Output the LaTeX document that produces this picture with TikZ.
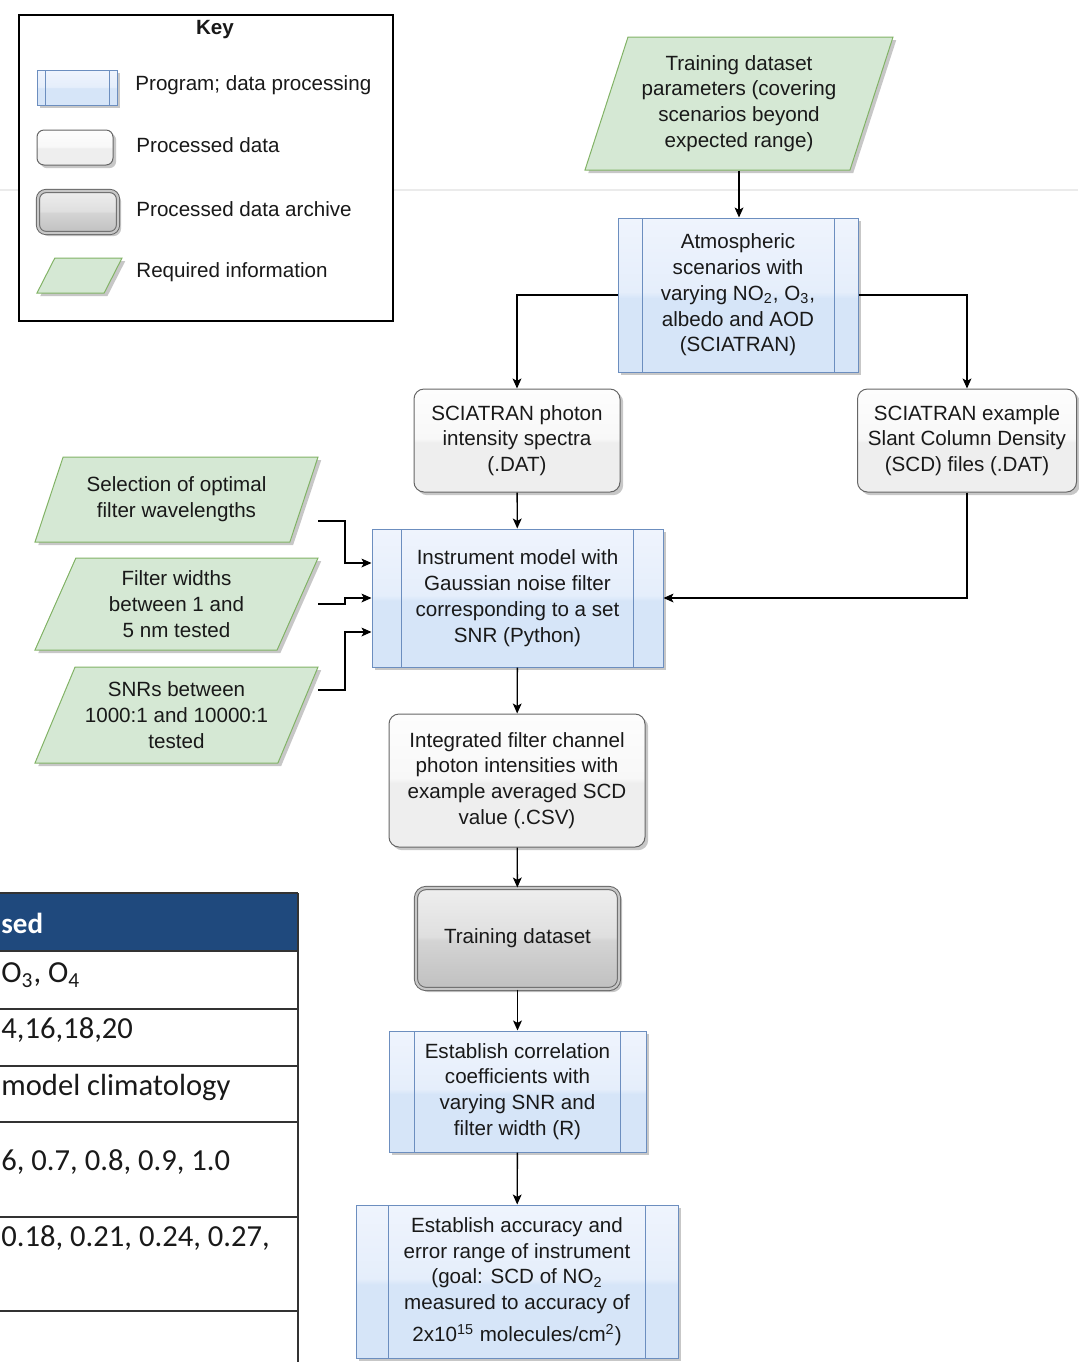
\documentclass[tikz,border=0pt]{standalone}
\usepackage{fontspec}
\setmainfont{Liberation Sans}
\newfontfamily\tabfont{Carlito}
\usepackage{tikz}
\usetikzlibrary{arrows.meta}
\usetikzlibrary{shapes.geometric, shadows, calc}
\definecolor{col1}{HTML}{6C8EBF}
\definecolor{col2}{HTML}{666666}
\definecolor{col3}{HTML}{D5E8D4}
\definecolor{col4}{HTML}{82B366}
\definecolor{col5}{HTML}{1F497D}
\definecolor{colb1}{HTML}{D6E5F8}
\definecolor{colb2}{HTML}{E5EEFB}
\definecolor{colb3}{HTML}{EFF4FD}
\definecolor{cold1}{HTML}{EEEEEE}
\definecolor{cold2}{HTML}{F8F8F8}
\definecolor{cold3}{HTML}{FDFDFD}
\definecolor{cola1}{HTML}{C0C0C0}
\definecolor{cola2}{HTML}{D4D4D4}
\definecolor{cola3}{HTML}{DFDFDF}
\definecolor{cola4}{HTML}{EEEEEE}
\pgfdeclareverticalshading{glassblue}{100bp}{color(0bp)=(colb1); color(25bp)=(colb1); color(49bp)=(colb1); color(51bp)=(colb2); color(75bp)=(colb3); color(100bp)=(colb3)}
\pgfdeclareverticalshading{glasswhite}{100bp}{color(0bp)=(cold1); color(25bp)=(cold1); color(49bp)=(cold1); color(51bp)=(cold2); color(75bp)=(cold3); color(100bp)=(cold3)}
\pgfdeclareverticalshading{glassgray}{100bp}{color(0bp)=(cola1); color(25bp)=(cola1); color(49bp)=(cola2); color(51bp)=(cola3); color(75bp)=(cola4); color(100bp)=(cola4)}

\begin{document}
\begin{tikzpicture}[x=0.5pt, y=-0.5pt, font=\fontsize{10.3}{12.9}\selectfont, text=black!90]
    \tikzstyle{shd} += [drop shadow={shadow xshift=1.6pt, shadow yshift=-1.6pt, fill=black!22, opacity=1}];
    \tikzstyle{prc} += [rectangle, draw=col1, line width=0.5pt, shading=glassblue, shd, inner sep=0pt, align=center,
      path picture={
        \draw[col1, line width=0.5pt] ($(path picture bounding box.north west)!0.1!(path picture bounding box.north east)$) -- ($(path picture bounding box.south west)!0.1!(path picture bounding box.south east)$);
        \draw[col1, line width=0.5pt] ($(path picture bounding box.north west)!0.9!(path picture bounding box.north east)$) -- ($(path picture bounding box.south west)!0.9!(path picture bounding box.south east)$);
      }];
    \tikzstyle{dat} += [rectangle, rounded corners=5pt, draw=col2, line width=0.5pt, shading=glasswhite, shd, inner sep=0pt, align=center];
    \tikzstyle{arc} += [rectangle, rounded corners=5pt, draw=col2, double=black!22, double distance=1.1pt, line width=0.5pt, shading=glassgray, shd, inner sep=0pt, align=center];
    \tikzstyle{inf} += [trapezium, trapezium stretches body, draw=col4, fill=col3, line width=0.5pt, shd, inner sep=0pt, align=center];
    \tikzstyle{ktx} += [anchor=west, inner sep=0pt];
    \tikzstyle{tbx} += [anchor=west, inner sep=0pt, font=\tabfont\fontsize{15.3}{18}\selectfont];

    \useasboundingbox (0,0) rectangle (1078,1362);
    \draw[black!8, line width=1pt] (0,190) -- (1078,190);

    % key
    \node (key) at (206,168) [draw=black, fill=white, line width=0.6pt, minimum width=187pt, minimum height=153pt] {};
    \node (k_0) at (215,30) [font=\fontsize{10.3}{12.9}\selectfont\bfseries] {Key};
    \node (k_1) at (77,87.5) [prc, minimum width=40pt, minimum height=17.5pt] {};
    \node (k_2) at (75,147.5) [dat, rounded corners=3.5pt, minimum width=38pt, minimum height=17.5pt] {};
    \node (k_3) at (78,212) [arc, rounded corners=4pt, minimum width=40pt, minimum height=21pt] {};
    \node (k_4) at (79.5,275.5) [inf, trapezium left angle=63, trapezium right angle=117, minimum width=42.5pt, minimum height=17.5pt] {\rule{0pt}{17.5pt}};
    \node (t_1) at (135,85) [ktx] {Program; data processing};
    \node (t_2) at (136,145) [ktx] {Processed data};
    \node (t_3) at (136,209) [ktx] {Processed data archive};
    \node (t_4) at (136,272) [ktx] {Required information};

    % flow
    \node (in_1) at (739,103.5) [inf, trapezium left angle=66, trapezium right angle=114, minimum width=154pt, minimum height=66.5pt]
      {Training dataset\\parameters (covering\\scenarios beyond\\expected range)};
    \node (pr_1) at (738,295) [prc, minimum width=120pt, minimum height=77pt]
      {Atmospheric\\scenarios with\\varying NO\textsubscript{2}, O\textsubscript{3},\\albedo and AOD\\(SCIATRAN)};
    \node (dt_1) at (517,440.5) [dat, minimum width=103pt, minimum height=51.5pt]
      {SCIATRAN photon\\intensity spectra\\(.DAT)};
    \node (dt_2) at (967,440.5) [dat, minimum width=109.5pt, minimum height=51.5pt]
      {SCIATRAN example\\Slant Column Density\\(SCD) files (.DAT)};
    \node (pr_2) at (517.5,598) [prc, minimum width=145.5pt, minimum height=69pt]
      {Instrument model with\\Gaussian noise filter\\corresponding to a set\\SNR (Python)};
    \node (dt_3) at (517,780.5) [dat, minimum width=128pt, minimum height=66.5pt]
      {Integrated filter channel\\photon intensities with\\example averaged SCD\\value (.CSV)};
    \node (ar_1) at (517.5,938.5) [arc, minimum width=101.5pt, minimum height=50.5pt] {Training dataset};
    \node (pr_3) at (517.5,1091.5) [prc, minimum width=128.5pt, minimum height=60.5pt]
      {Establish correlation\\coefficients with\\varying SNR and\\filter width (R)};
    \node (pr_4) at (517,1281.5) [prc, minimum width=161pt, minimum height=76.5pt]
      {Establish accuracy and\\error range of instrument\\(goal: SCD of NO\textsubscript{2}\\measured to accuracy of\\[3pt]2x10\textsuperscript{15} molecules/cm\textsuperscript{2})};
    \node (in_2) at (176.5,499.5) [inf, trapezium left angle=58, trapezium right angle=122, minimum width=141.5pt, minimum height=42.5pt]
      {Selection of optimal\\filter wavelengths};
    \node (in_3) at (176.5,604) [inf, trapezium left angle=58.5, trapezium right angle=121.5, minimum width=141.5pt, minimum height=46pt]
      {Filter widths\\between 1 and\\5 nm tested};
    \node (in_4) at (176.5,715) [inf, trapezium left angle=59, trapezium right angle=121, minimum width=141.5pt, minimum height=48pt]
      {SNRs between\\1000:1 and 10000:1\\tested};
    \coordinate (c_1) at (318,521);
    \coordinate (c_2) at (318,604);
    \coordinate (c_3) at (318,690);

    \begin{scope}[line width=0.7pt, -{Stealth[length=5pt, width=4.4pt, inset=1.2pt]}]
      \draw (in_1.south) -- (in_1.south |- pr_1.north);
      \draw (pr_1.west) -| (dt_1.north);
      \draw (pr_1.east) -| (dt_2.north);
      \draw (dt_1) -- (pr_2);
      \draw (dt_2.south) |- (pr_2.east);
      \draw (c_1) -- ++(27,0) |- ([yshift=17.5pt]pr_2.west);
      \draw (c_2) -- ++(27,0) |- (pr_2.west);
      \draw (c_3) -- ++(27,0) |- ([yshift=-17pt]pr_2.west);
      \draw (pr_2) -- (dt_3);
      \draw (dt_3) -- (ar_1);
      \draw (ar_1) -- (pr_3);
      \draw (pr_3) -- (pr_4);
    \end{scope}

    % table behind
    \fill[col5] (0,893) rectangle (298,951);
    \begin{scope}[black!80, line width=0.8pt]
      \draw (0,893) -- (298,893);
      \foreach \y in {951,1009,1066,1122,1217,1311}
        \draw (0,\y) -- (298,\y);
      \draw (298,893) -- (298,1362);
    \end{scope}
    \node (tb_0) at (1,923) [tbx, text=white, font=\tabfont\fontsize{14.5}{18}\selectfont\bfseries] {sed};
    \node (tb_1) at (1,975) [tbx] {O\textsubscript{3}, O\textsubscript{4}};
    \node (tb_2) at (1,1030) [tbx] {4,16,18,20};
    \node (tb_3) at (1,1087) [tbx] {model climatology};
    \node (tb_4) at (1,1162) [tbx] {6, 0.7, 0.8, 0.9, 1.0};
    \node (tb_5) at (1,1238) [tbx] {0.18, 0.21, 0.24, 0.27,};
  \end{tikzpicture}
\end{document}
